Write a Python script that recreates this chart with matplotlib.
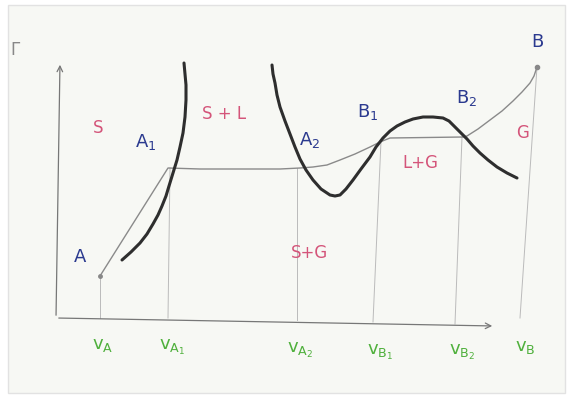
import matplotlib.pyplot as plt
from matplotlib.patches import Rectangle

# hand-drawn sketch traced in picture coordinates (x right, y down)
solid_x = [122, 131, 140, 147, 153, 158, 162, 166, 169, 173, 177, 180, 183, 185, 186, 186, 185, 184]
solid_y = [260, 252, 243, 234, 224, 215, 206, 196, 186, 173, 160, 147, 133, 117, 100, 85, 74, 63]

gas_x = [272, 273, 275, 277, 280, 285, 290, 295, 300, 306, 313, 321, 330, 335, 340, 346, 353,
         361, 370, 376, 383, 390, 397, 405, 413, 423, 433, 443, 449, 454, 460, 467, 473,
         480, 488, 497, 507, 517]
gas_y = [65, 74, 83, 95, 107, 121, 134, 147, 159, 170, 180, 189, 195, 196, 195, 189, 180,
         169, 157, 147, 138, 131, 126, 122, 119, 117, 117, 118, 121, 126, 132, 139, 146,
         153, 160, 167, 173, 178]

path_x = [100, 134, 168, 200, 240, 280, 300, 313, 327, 340, 355, 370, 380, 390, 463, 467,
          478, 490, 502, 513, 522, 530, 534, 537]
path_y = [276, 222, 168, 169, 169, 169, 168, 167, 165, 160, 154, 147, 142, 138, 137, 136,
          129, 120, 111, 101, 92, 83, 76, 67]

drop_x = [(100, 100), (170, 168), (297, 297), (381, 373), (462, 455), (537, 520)]
drop_y = [(276, 318), (168, 318), (168, 320), (141, 322), (137, 324), (67, 318)]

point_labels = ["A", r"$\mathrm{A}_1$", r"$\mathrm{A}_2$", r"$\mathrm{B}_1$", r"$\mathrm{B}_2$", "B"]
point_pos = [(80, 257), (146, 142), (310, 140), (368, 112), (467, 98), (537, 42)]

phase_labels = ["S", "S + L", "L+G", "S+G", "G"]
phase_pos = [(98, 128), (224, 114), (420, 163), (310, 253), (523, 133)]

v_labels = [r"$\mathrm{v}_\mathrm{A}$", r"$\mathrm{v}_{\mathrm{A}_1}$", r"$\mathrm{v}_{\mathrm{A}_2}$",
            r"$\mathrm{v}_{\mathrm{B}_1}$", r"$\mathrm{v}_{\mathrm{B}_2}$", r"$\mathrm{v}_\mathrm{B}$"]
v_pos = [(103, 345), (172, 347), (300, 350), (380, 352), (462, 352), (525, 347)]

blue = '#2b3a8f'
pink = '#d4557a'
green = '#4fb03c'

fig = plt.figure(figsize=(5.71, 3.99), dpi=100)
ax = fig.add_axes([0, 0, 1, 1])
ax.set_xlim(0, 571)
ax.set_ylim(399, 0)
ax.axis('off')

ax.add_patch(Rectangle((8, 5), 557, 388, facecolor='#f7f8f4', edgecolor='#e2e2e2', lw=1))

# axes of the sketch
ax.annotate('', xy=(60, 62), xytext=(56, 318),
            arrowprops=dict(arrowstyle='->', color='#777777', lw=0.9))
ax.annotate('', xy=(495, 326), xytext=(56, 318),
            arrowprops=dict(arrowstyle='->', color='#777777', lw=0.9))
ax.text(15, 50, 'Γ', color='#888888', fontsize=12, ha='center', va='center')

for xs, ys in zip(drop_x, drop_y):
    ax.plot(xs, ys, color='#bbbbbb', lw=0.7)

ax.plot(path_x, path_y, color='#8a8a8a', lw=1.0)
ax.plot([100], [276], 'o', color='#888888', ms=2.5)
ax.plot([537], [67], 'o', color='#888888', ms=3)

ax.plot(solid_x, solid_y, color='#2e2e2e', lw=2.2, solid_capstyle='round')
ax.plot(gas_x, gas_y, color='#2e2e2e', lw=2.2, solid_capstyle='round')

for s, (x, y) in zip(point_labels, point_pos):
    ax.text(x, y, s, color=blue, fontsize=13, ha='center', va='center')
for s, (x, y) in zip(phase_labels, phase_pos):
    ax.text(x, y, s, color=pink, fontsize=12, ha='center', va='center')
for s, (x, y) in zip(v_labels, v_pos):
    ax.text(x, y, s, color=green, fontsize=13, ha='center', va='center')

fig.savefig('out.png', dpi=100)
